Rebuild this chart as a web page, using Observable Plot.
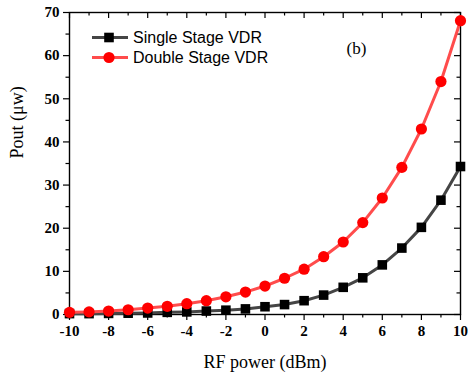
<!DOCTYPE html>
<html><head><meta charset="utf-8">
<script src="https://cdn.jsdelivr.net/npm/d3@7"></script>
<script src="https://cdn.jsdelivr.net/npm/@observablehq/plot@0.6"></script>
<style>body{margin:0;background:#fff} svg{display:block;background:#fff}</style>
</head><body><div id="chart"></div>
<script>
const rfPower = [-10,-9,-8,-7,-6,-5,-4,-3,-2,-1,0,1,2,3,4,5,6,7,8,9,10];
const singleStage = [0.2,0.2,0.25,0.3,0.35,0.5,0.6,0.8,1.0,1.3,1.8,2.3,3.2,4.5,6.3,8.5,11.5,15.4,20.2,26.5,34.3];
const doubleStage = [0.5,0.6,0.8,1.1,1.5,1.9,2.5,3.2,4.1,5.2,6.6,8.4,10.5,13.4,16.8,21.3,27.0,34.1,43.0,54.0,68.1];
const seriesNames = ["Single Stage VDR", "Double Stage VDR"];
const seriesColors = ["#454545", "#ff4c4c"];
const markerColors = ["#000000", "#ff0000"];
const xMajorTicks = [-10,-8,-6,-4,-2,0,2,4,6,8,10];
const xMinorTicks = [-9,-7,-5,-3,-1,1,3,5,7,9];
const yMajorTicks = [0,10,20,30,40,50,60,70];
const yMinorTicks = [5,15,25,35,45,55,65];
const xLabel = "RF power (dBm)";
const yLabel = "Pout (μw)";
const panelLabel = "(b)";

const W = 468, H = 377;
const mL = 69, mR = 8, mT = 12, mB = 63;
const fw = W - mL - mR, fh = H - mT - mB;
const serif = "'Liberation Serif', 'Times New Roman', serif";
const sans = "'Liberation Sans', Arial, sans-serif";

const singleData = rfPower.map((x, i) => ({x, y: singleStage[i], s: seriesNames[0]}));
const doubleData = rfPower.map((x, i) => ({x, y: doubleStage[i], s: seriesNames[1]}));
const allData = singleData.concat(doubleData);

const chart = Plot.plot({
  width: W, height: H,
  marginLeft: mL, marginRight: mR, marginTop: mT, marginBottom: mB,
  style: {fontFamily: serif, background: "#fff", color: "#000"},
  x: {domain: [-10, 10]},
  y: {domain: [0, 70]},
  color: {domain: seriesNames, range: seriesColors},
  marks: [
    Plot.axisX({ticks: xMajorTicks, tickSize: 6, tickPadding: 5, tickFormat: d => String(d),
      fontSize: 15, fontWeight: "bold", label: null, strokeWidth: 1.2}),
    Plot.axisX({ticks: xMinorTicks, tickSize: 3.5, tickFormat: () => "", label: null, strokeWidth: 1.2}),
    Plot.axisY({ticks: yMajorTicks, tickSize: 6, tickPadding: 4, tickFormat: d => String(d),
      fontSize: 15, fontWeight: "bold", label: null, strokeWidth: 1.2}),
    Plot.axisY({ticks: yMinorTicks, tickSize: 3.5, tickFormat: () => "", label: null, strokeWidth: 1.2}),
    Plot.ruleX(xMajorTicks, {x: d => d, insetBottom: fh - 6, stroke: "#000", strokeWidth: 1.2}),
    Plot.ruleX(xMinorTicks, {x: d => d, insetBottom: fh - 3.5, stroke: "#000", strokeWidth: 1.2}),
    Plot.ruleY(yMajorTicks, {y: d => d, insetLeft: fw - 6, stroke: "#000", strokeWidth: 1.2}),
    Plot.ruleY(yMinorTicks, {y: d => d, insetLeft: fw - 3.5, stroke: "#000", strokeWidth: 1.2}),
    Plot.frame({stroke: "#000", strokeWidth: 1.4}),
    Plot.line(allData, {x: "x", y: "y", z: "s", stroke: "s", strokeWidth: 3}),
    Plot.dot(singleData, {x: "x", y: "y", symbol: "square", r: 5.4, fill: markerColors[0], stroke: "none"}),
    Plot.dot(doubleData, {x: "x", y: "y", symbol: "circle", r: 5.6, fill: markerColors[1], stroke: "none"}),
    Plot.text([xLabel], {text: d => d, frameAnchor: "bottom", dy: 48, lineAnchor: "middle",
      fontSize: 18, fontFamily: serif, fill: "#000"}),
    Plot.text([yLabel], {text: d => d, frameAnchor: "left", dx: -52, dy: -5, rotate: -90, lineAnchor: "middle",
      fontSize: 18, fontFamily: serif, fill: "#000"}),
    Plot.text([panelLabel], {text: d => d, frameAnchor: "top-left", dx: 287, dy: 36, lineAnchor: "middle",
      textAnchor: "middle", fontSize: 17, fontFamily: serif, fill: "#000"})
  ]
});

const svg = d3.select(chart);
const legendY = [37.5, 57.5];
seriesNames.forEach((name, i) => {
  const g = svg.append("g");
  const y = legendY[i];
  g.append("line").attr("x1", 92).attr("x2", 128).attr("y1", y).attr("y2", y)
    .attr("stroke", seriesColors[i]).attr("stroke-width", 3);
  if (i === 0) {
    g.append("rect").attr("x", 109 - 4.8).attr("y", y - 4.8).attr("width", 9.6).attr("height", 9.6)
      .attr("fill", markerColors[i]);
  } else {
    g.append("circle").attr("cx", 109).attr("cy", y).attr("r", 5.6).attr("fill", markerColors[i]);
  }
  g.append("text").attr("x", 133).attr("y", y + 5.8).text(name)
    .attr("text-anchor", "start")
    .attr("font-family", sans).attr("font-size", 16).attr("fill", "#000");
});

document.getElementById("chart").appendChild(chart);
</script>
</body></html>
